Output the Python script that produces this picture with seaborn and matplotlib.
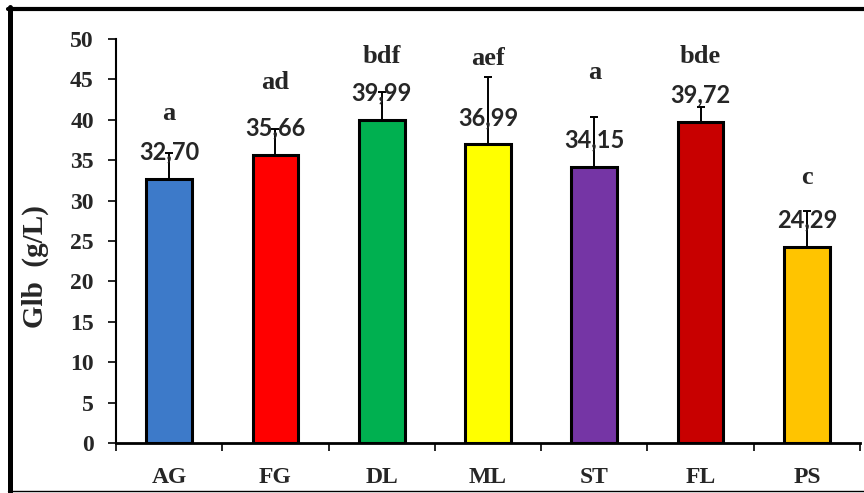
import matplotlib
matplotlib.use("Agg")
import matplotlib.pyplot as plt
from matplotlib.lines import Line2D
import numpy as np
import pandas as pd
import seaborn as sns

# data
groups = ["AG", "FG", "DL", "ML", "ST", "FL", "PS"]
means = [32.70, 35.66, 39.99, 36.99, 34.15, 39.72, 24.29]
errors = [3.2, 3.2, 3.4, 8.3, 6.2, 1.9, 4.4]
letters = ["a", "ad", "bdf", "aef", "a", "bde", "c"]
bar_colors = ["#3D7AC9", "#FF0000", "#00B050", "#FFFF00", "#7535A5", "#C80000", "#FFC400"]

sns.set_style("white")
serif = ["Liberation Serif", "DejaVu Serif"]
plt.rcParams["font.family"] = serif

df = pd.DataFrame({"group": groups, "value": means})

fig = plt.figure(figsize=(8.64, 4.93), dpi=100)
ax = fig.add_axes([0.1343, 0.1014, 0.8611, 0.8195])

sns.barplot(data=df, x="group", y="value", hue="group", palette=bar_colors,
            legend=False, width=0.43, edgecolor="black", linewidth=2.2,
            saturation=1, ax=ax, zorder=2)

xpos = np.arange(len(groups))
ax.errorbar(xpos, means, yerr=[np.zeros(len(errors)), errors], fmt="none",
            ecolor="black", elinewidth=1.4, capsize=3, capthick=1.4, zorder=3)

# value labels (comma decimal)
for x, v in zip(xpos, means):
    ax.text(x, v + 3.3, f"{v:.2f}".replace(".", ","), ha="center", va="center",
            fontsize=17, fontweight="bold", family=["Lato", "DejaVu Sans"], zorder=4)

# significance letters
letter_y = [40.8, 44.6, 47.8, 47.6, 45.8, 47.8, 32.8]
for x, lab, y in zip(xpos, letters, letter_y):
    ax.text(x, y, lab, ha="center", va="center", fontsize=19, fontweight="bold",
            family=serif)

ax.set_ylim(0, 50)
ax.set_xlim(-0.5, len(groups) - 0.5)
ax.set_yticks(np.arange(0, 51, 5))
ax.set_xticks(xpos)
ax.set_xticklabels(groups)
ax.set_xticks(np.arange(-0.5, len(groups), 1), minor=True)
ax.tick_params(axis="x", which="major", length=0, pad=17, labelsize=17)
ax.tick_params(axis="x", which="minor", direction="out", length=6, width=1.4, bottom=True)
ax.tick_params(axis="y", direction="out", length=6, width=1.4, left=True, pad=10, labelsize=17)
for lab in ax.get_xticklabels() + ax.get_yticklabels():
    lab.set_fontweight("bold")
    lab.set_fontfamily(serif)

ax.set_xlabel("")
ax.set_ylabel("Glb  (g/L)", fontsize=21, fontweight="bold", family=serif)
ax.yaxis.set_label_coords(-0.09, 0.436)

sns.despine(ax=ax, top=True, right=True)
ax.spines["left"].set_linewidth(1.5)
ax.spines["bottom"].set_linewidth(2)
ax.spines["left"].set_color("black")
ax.spines["bottom"].set_color("black")

# outer frame: thick left/top, thin bottom
W, H = 864, 493
fig.add_artist(Line2D([9.5 / W, 9.5 / W], [1 - 7 / H, 1 - 492 / H], color="black", lw=3.6,
                      transform=fig.transFigure))
fig.add_artist(Line2D([7.5 / W, 1], [1 - 9 / H, 1 - 9 / H], color="black", lw=3,
                      transform=fig.transFigure))
fig.add_artist(Line2D([7.5 / W, 1], [1 - 491 / H, 1 - 491 / H], color="black", lw=1,
                      transform=fig.transFigure))

fig.savefig("out.png", dpi=100)
